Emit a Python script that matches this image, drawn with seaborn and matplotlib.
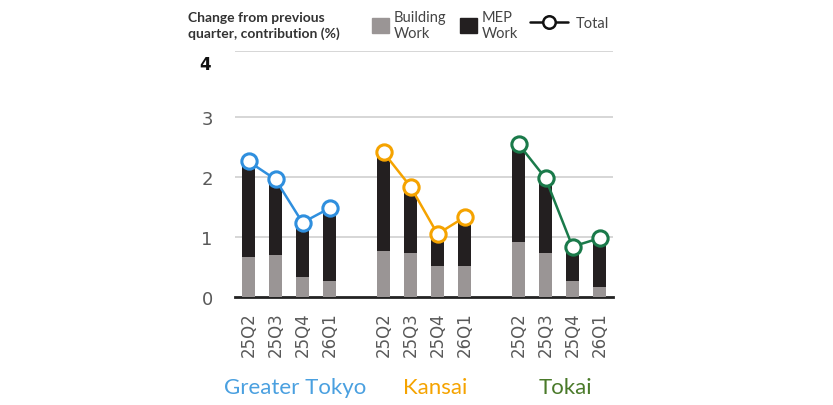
import numpy as np
import pandas as pd
import matplotlib
matplotlib.use("Agg")
import matplotlib.pyplot as plt
import matplotlib.transforms as mtrans
from matplotlib.patches import Patch
from matplotlib.lines import Line2D
import seaborn as sns

# data
regions = ["Greater Tokyo", "Kansai", "Tokai"]
quarters = ["25Q2", "25Q3", "25Q4", "26Q1"]
building = [0.67, 0.70, 0.34, 0.26,
            0.76, 0.73, 0.52, 0.51,
            0.91, 0.74, 0.27, 0.17]
mep = [1.51, 1.18, 0.83, 1.14,
       1.57, 1.01, 0.45, 0.73,
       1.56, 1.17, 0.49, 0.71]
total = [2.26, 1.96, 1.24, 1.48,
         2.41, 1.84, 1.05, 1.33,
         2.55, 1.98, 0.84, 0.98]

line_cols = {"Greater Tokyo": "#2f8fde", "Kansai": "#f5a300", "Tokai": "#1a7a4a"}
label_cols = {"Greater Tokyo": "#4aa0e0", "Kansai": "#f5a300", "Tokai": "#4a7a2a"}
gray = "#9a9595"
black = "#231f20"

rows = []
for i, r in enumerate(regions):
    for j, q in enumerate(quarters):
        k = i * 4 + j
        rows.append(dict(region=r, quarter=q, pos=i * 5 + j,
                         building=building[k], mep=mep[k], total=total[k]))
df = pd.DataFrame(rows)
df["stack"] = df["building"] + df["mep"]

sns.set_style("white")
plt.rcParams["font.family"] = ["Lato", "DejaVu Sans"]

fig = plt.figure(figsize=(8.33, 4.06), dpi=100)
ax = fig.add_axes([235 / 833, 1 - 298 / 406, 378 / 833, 246 / 406])

sns.barplot(data=df, x="pos", y="stack", color=black, native_scale=True,
            width=0.5, linewidth=0, saturation=1, errorbar=None, ax=ax, zorder=2)
sns.barplot(data=df, x="pos", y="building", color=gray, native_scale=True,
            width=0.5, linewidth=0, saturation=1, errorbar=None, ax=ax, zorder=3)
for r in regions:
    sub = df[df.region == r]
    sns.lineplot(data=sub, x="pos", y="total", color=line_cols[r], lw=1.8,
                 marker="o", markersize=11, markerfacecolor="white",
                 markeredgecolor=line_cols[r], markeredgewidth=2.2, ax=ax, zorder=4)

ax.set_xlim(-0.5, 13.5)
ax.set_ylim(0, 4.1)
ax.set_yticks([0, 1, 2, 3])
ax.set_yticklabels(["0", "1", "2", "3"], color="#595959", fontsize=13,
                   family="DejaVu Sans")
ax.set_xticks(df["pos"])
ax.set_xticklabels(df["quarter"], rotation=90, color="#595959", fontsize=12,
                   family="DejaVu Sans")
ax.tick_params(axis="y", length=0, pad=16)
ax.tick_params(axis="x", length=0, pad=10)
ax.set_xlabel("")
ax.set_ylabel("")
ax.grid(False)
for yv in [1, 2, 3, 4.1]:
    ax.axhline(yv, color="#d0d0d0", lw=1.2, zorder=1)
for s in ["left", "right", "top"]:
    ax.spines[s].set_visible(False)
ax.spines["bottom"].set_color("#222222")
ax.spines["bottom"].set_linewidth(2)

ax.text(-0.065, 3.88, "4", transform=mtrans.blended_transform_factory(ax.transAxes, ax.transData),
        ha="right", va="center", fontsize=12, fontweight="bold", color="#111111",
        family="DejaVu Sans")

# region names under the quarter labels
tr = mtrans.blended_transform_factory(ax.transData, fig.transFigure)
for x, r in zip([1.72, 6.9, 11.75], regions):
    ax.text(x, 1 - 388 / 406, r, transform=tr, ha="center", va="center",
            fontsize=16, color=label_cols[r])

fig.text(188 / 833, 1 - 26 / 406, "Change from previous\nquarter, contribution (%)",
         ha="left", va="center", fontsize=10, fontweight="bold", color="#333333",
         linespacing=1.35)

handles = [Patch(color=gray), Patch(color=black),
           Line2D([], [], color="#111111", lw=1.8, marker="o", markersize=9,
                  markerfacecolor="white", markeredgewidth=1.8)]
fig.legend(handles[:2], ["Building\nWork", "MEP\nWork"], ncol=2,
           loc="center left", bbox_to_anchor=(362 / 833, 1 - 26 / 406),
           frameon=False, fontsize=10.5, labelcolor="#444444",
           handlelength=1.15, handleheight=1.15, handletextpad=0.35,
           columnspacing=0.9, borderpad=0.2)
fig.legend(handles[2:], ["Total"], loc="center left",
           bbox_to_anchor=(520 / 833, 1 - 24 / 406), frameon=False,
           fontsize=10.5, labelcolor="#444444", handlelength=2.6,
           handletextpad=0.5, borderpad=0.2)

fig.savefig("out.png", dpi=100)
